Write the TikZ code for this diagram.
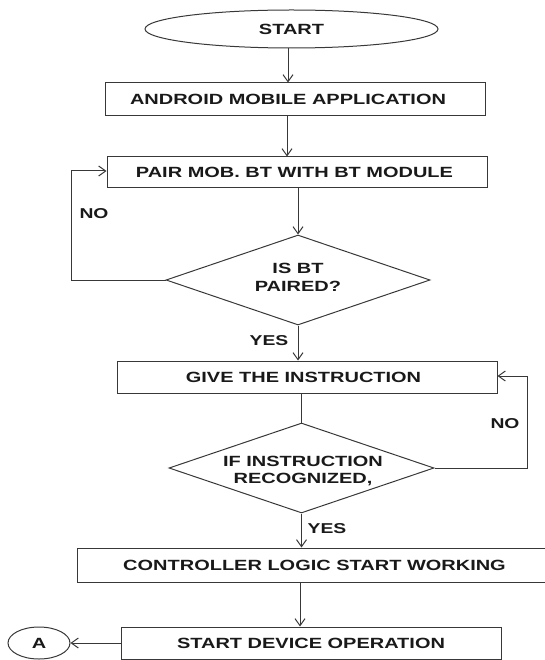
\documentclass[tikz,border=0pt]{standalone}
\usepackage{fontspec}
\newfontfamily\lbf{Liberation Sans}[FakeStretch=1.35]
\usetikzlibrary{arrows.meta,shapes.geometric}
\begin{document}
\begin{tikzpicture}[x=1pt,y=-1pt,
  every node/.style={text=black!90},
  boxtxt/.style={font=\lbf\bfseries\fontsize{14.8}{17.5}\selectfont},
  lbl/.style={font=\lbf\bfseries\fontsize{14.3}{17}\selectfont, inner sep=0pt},
  pbox/.style={boxtxt, draw=black!78, line width=1pt, rectangle, inner sep=0pt, minimum width=380pt},
  dec/.style={draw=black!78, line width=1pt, diamond, inner sep=0pt},
  dtxt/.style={boxtxt, align=center, inner sep=0pt},
  conn/.style={draw=black!78, line width=1pt},
  arr/.style={conn, -{Straight Barb[length=7pt,width=10pt,line width=1pt]}}
]
\useasboundingbox (0,0) rectangle (545,660);

\node[boxtxt, draw=black!78, line width=1pt, ellipse, inner sep=0pt,
      minimum width=293pt, minimum height=38pt] (start) at (291.5,29) {START};
\node[pbox, minimum height=33pt] (android) at (295,99.5) {\hspace*{-14pt}ANDROID MOBILE APPLICATION};
\node[pbox, minimum height=31pt] (pair) at (297,172.5) {\hspace*{-5pt}PAIR MOB. BT WITH BT MODULE};
\node[dec, aspect=2.93, minimum width=264pt, minimum height=90pt] (dia1) at (298,280) {};
\node[dtxt] (dia1t) at (298,277.5) {IS BT\\PAIRED?};
\node[pbox, minimum height=32pt] (give) at (307,377) {\hspace*{-7pt}GIVE THE INSTRUCTION};
\node[dec, aspect=2.94, minimum width=265pt, minimum height=90pt] (dia2) at (301.5,468) {};
\node[dtxt] (dia2t) at (303,471) {IF INSTRUCTION\\RECOGNIZED,};
\node[pbox, minimum width=475pt, minimum height=34pt] (ctrl) at (314.5,565)
  {CONTROLLER LOGIC START WORKING};
\node[pbox, minimum height=32pt] (devop) at (311,643) {START DEVICE OPERATION};
\node[boxtxt, draw=black!78, line width=1pt, ellipse, inner sep=0pt,
      minimum width=62pt, minimum height=32pt] (A) at (39,643) {A};

\coordinate (loopL) at (71,0);
\coordinate (loopR) at (527,0);

\draw[arr] ([xshift=-3.5pt]start.south) -- ([xshift=-3.5pt]start.south |- android.north);
\draw[arr] ([xshift=-8pt]android.south) -- ([xshift=-8pt]android.south |- pair.north);
\draw[arr] (dia1.north |- pair.south) -- (dia1.north);
\draw[arr] (dia1.west) -- (dia1.west -| loopL) -- ([yshift=1.5pt]loopL |- pair.west) -- ([yshift=1.5pt]pair.west);
\node[lbl] (no1) at (94,214) {NO};
\draw[arr] (dia1.south) -- (dia1.south |- give.north);
\node[lbl] (yes1) at (269,341) {YES};
\draw[conn] (dia2.north |- give.south) -- (dia2.north);
\draw[arr] (dia2.east) -- (dia2.east -| loopR) -- ([yshift=1pt]loopR |- give.east) -- ([yshift=1pt]give.east);
\node[lbl] (no2) at (505,424) {NO};
\draw[arr] (dia2.south) -- (dia2.south |- ctrl.north);
\node[lbl] (yes2) at (327,529) {YES};
\draw[arr] ([xshift=-1.5pt]dia2.south |- ctrl.south) -- ([xshift=-1.5pt]dia2.south |- devop.north);
\draw[arr] (devop.west) -- (A.east);
\end{tikzpicture}
\end{document}
